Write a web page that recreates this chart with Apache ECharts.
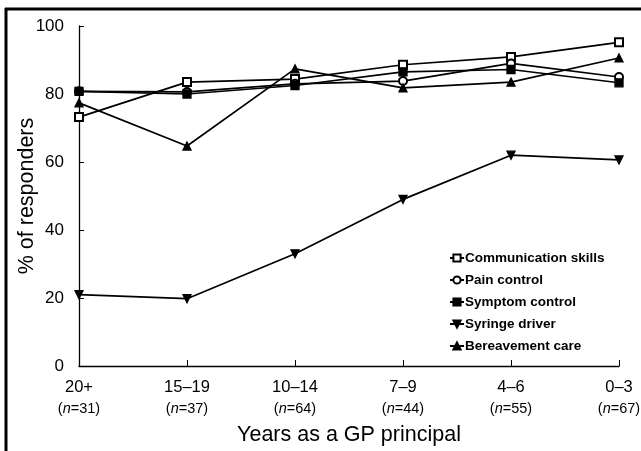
<!DOCTYPE html>
<html>
<head>
<meta charset="utf-8">
<script src="https://cdn.jsdelivr.net/npm/echarts@6/dist/echarts.min.js"></script>
<style>html,body{margin:0;padding:0;background:#fff;}#c{width:641px;height:451px;}</style>
</head>
<body>
<div id="c"></div>
<script>
var categories = ['20+', '15–19', '10–14', '7–9', '4–6', '0–3'];
var groupSizes = [31, 37, 64, 44, 55, 67];
var communication = [73.2, 83.5, 84.4, 88.6, 90.9, 95.2];
var painControl = [80.8, 80.6, 83.0, 83.8, 89.0, 85.0];
var symptomControl = [80.8, 80.0, 82.5, 86.5, 87.2, 83.3];
var syringeDriver = [21.0, 19.8, 33.0, 49.0, 62.0, 60.6];
var bereavement = [77.4, 64.7, 87.4, 81.8, 83.5, 90.6];
var yTicks = [0, 20, 40, 60, 80, 100];

var chart = echarts.init(document.getElementById('c'));
var font = 'Liberation Sans, Arial, sans-serif';
function mk(name, data, symbol, rot) {
  return {
    name: name, type: 'line', data: data, symbol: symbol, symbolSize: 8,
    symbolRotate: rot || 0, showAllSymbol: true,
    lineStyle: { color: '#000', width: 1.7 },
    itemStyle: { color: '#000', borderColor: '#000', borderWidth: 1.3 },
    emphasis: { disabled: true }, animation: false
  };
}
chart.setOption({
  animation: false,
  backgroundColor: '#fff',
  grid: { left: 79, right: 22, top: 26, bottom: 85, containLabel: false, outerBoundsMode: 'none' },
  legend: {
    orient: 'vertical', left: 444, top: 246, itemGap: 8, itemWidth: 14, itemHeight: 9,
    textStyle: { fontFamily: font, fontSize: 13.5, fontWeight: 'bold', color: '#000', padding: [0,0,0,-4] },
    data: ['Communication skills', 'Pain control', 'Symptom control', 'Syringe driver', 'Bereavement care']
  },
  xAxis: {
    type: 'category', data: categories, boundaryGap: false,
    name: 'Years as a GP principal', nameLocation: 'middle', nameGap: 58, nameMoveOverlap: false,
    nameTextStyle: { fontFamily: font, fontSize: 21.5, color: '#000' },
    axisLine: { lineStyle: { color: '#000', width: 1.3 } },
    axisTick: { inside: true, length: 6, alignWithLabel: true, lineStyle: { color: '#000' } },
    axisLabel: {
      interval: 0, margin: 10, color: '#000', hideOverlap: false,
      formatter: function (v, i) { return '{a|' + v + '}\n{b|(}{i|n}{b|=' + groupSizes[i] + ')}'; },
      rich: {
        a: { fontFamily: font, fontSize: 16.5, color: '#000', lineHeight: 22 },
        b: { fontFamily: font, fontSize: 14.5, color: '#000', lineHeight: 22 },
        i: { fontFamily: font, fontSize: 14.5, fontStyle: 'italic', color: '#000', lineHeight: 22 }
      }
    }
  },
  yAxis: {
    type: 'value', min: 0, max: 100, interval: 20,
    name: '% of responders', nameLocation: 'middle', nameGap: 41, nameMoveOverlap: false,
    nameTextStyle: { fontFamily: font, fontSize: 21.5, color: '#000' },
    axisLine: { show: true, lineStyle: { color: '#000', width: 1.3 } },
    axisTick: { show: true, inside: true, length: 5, lineStyle: { color: '#000' } },
    splitLine: { show: false },
    axisLabel: { fontFamily: font, fontSize: 17, color: '#000', margin: 15,
      formatter: function (v) { return yTicks.indexOf(v) >= 0 ? String(v) : ''; } }
  },
  graphic: [
    { type: 'line', shape: { x1: 6, y1: 8, x2: 6, y2: 451 }, style: { stroke: '#000', lineWidth: 3 } },
    { type: 'line', shape: { x1: 5, y1: 9, x2: 641, y2: 9 }, style: { stroke: '#000', lineWidth: 3 } }
  ],
  series: [
    mk('Communication skills', communication, 'emptyRect'),
    mk('Pain control', painControl, 'emptyCircle'),
    mk('Symptom control', symptomControl, 'rect'),
    mk('Syringe driver', syringeDriver, 'triangle', 180),
    mk('Bereavement care', bereavement, 'triangle')
  ]
});
</script>
</body>
</html>
